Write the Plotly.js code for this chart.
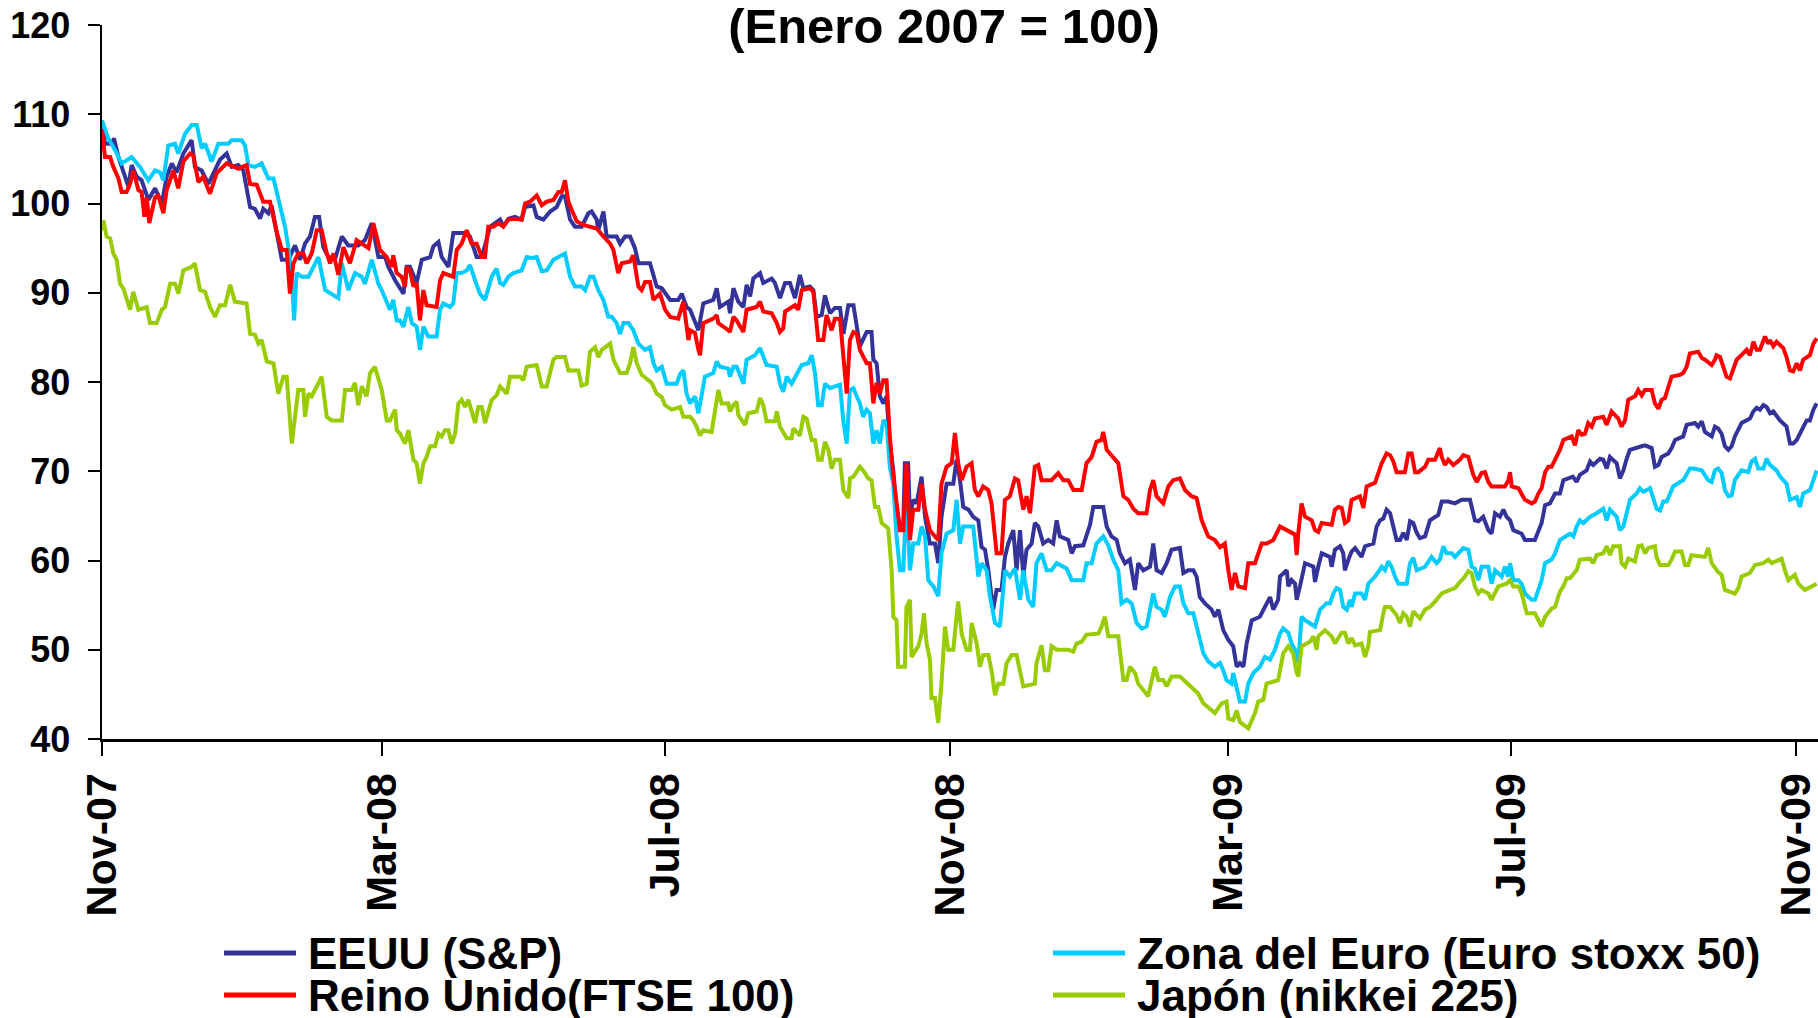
<!DOCTYPE html>
<html>
<head>
<meta charset="utf-8">
<script src="https://cdn.plot.ly/plotly-3.0.1.min.js"></script>
<style>
  html, body { margin: 0; padding: 0; background: #ffffff; }
  #chart { width: 1818px; height: 1018px; }
</style>
</head>
<body>
<div id="chart"></div>
<script>
// Days counted from 1 Nov 2007, index value (Enero 2007 = 100)
const baseDate = '2007-11-01';

const seriesNames = ['EEUU (S&P)', 'Zona del Euro (Euro stoxx 50)', 'Reino Unido(FTSE 100)', 'Japón (nikkei 225)'];
const seriesColors = ['#333399', '#00CCFF', '#FF0000', '#99CC00'];

const tickDates = ['2007-11-01', '2008-03-01', '2008-07-01', '2008-11-01', '2009-03-01', '2009-07-01', '2009-11-01'];
const tickLabels = ['Nov-07', 'Mar-08', 'Jul-08', 'Nov-08', 'Mar-09', 'Jul-09', 'Nov-09'];

const eeuu = [
[0,109.3],[1.3,106.7],[4.2,106.7],[5.2,107.3],[7.1,105.2],[9.9,102.8],[11.4,101.9],[12.8,104.3],[15,103],[17.1,102.6],[20,100.4],[22.9,101.7],[25.8,100],[27.9,103],[30.1,104.5],[32.2,103.5],[35.1,105.6],[38.7,107.1],[40.1,104.1],[43,103.7],[45.9,102.2],[50.9,104.9],[53.8,105.6],[56,104.1],[58.8,104.3],[61,103.7],[63.9,99.6],[66,99.4],[68.2,98.3],[69.6,99.4],[71.8,98.9],[73.2,99.8],[75.4,97],[77.6,93.7],[80.4,93.7],[83.3,95.3],[85.5,93.7],[87.6,95.5],[89.8,96.3],[91.9,98.5],[93.7,98.5],[95.5,95.1],[97.7,94],[100.6,93.8],[103.5,96.3],[106.3,95.3],[110.6,95.3],[113.5,95.9],[116.4,97.8],[119.3,94],[122.2,94],[123.6,92.9],[126.5,91.4],
[130.1,89.9],[131.5,92.9],[132.9,92.9],[135.8,91.1],[138,93.7],[141.6,94.0],[143,95.2],[145.2,95.7],[146.6,94.0],[149.5,92.9],[151.6,96.7],[157.4,96.7],[158.8,96.3],[161.7,94.0],[163.9,94.0],[167.5,97.4],[171.8,98.2],[173.2,97.4],[175.4,98.3],[178.2,98.5],[181.1,98.2],[182.6,99.6],[186.2,99.8],[187.6,98.5],[190.5,98.2],[193.4,99.1],[196.2,99.6],[198.4,100.8],[199.8,100.8],[202,98.2],[204.1,97.4],[207,97.4],[209.9,98.9],[211.3,99.1],[213.5,98.2],[214.2,97.0],[216.4,99.1],[217.8,96.3],[222.1,96.3],[223.6,95.5],[225.7,96.3],[227.9,96.3],[230,95.0],[231.5,93.3],[236.5,93.3],[239.4,90.7],[241.6,90.5],[245.2,89.2],[248.7,89.2],[250.2,89.9],[252.3,88.4],[253.8,88.1],
[255.2,87.3],[257.4,85.8],[259.5,88.8],[263.8,89.2],[265.3,90.5],[266.7,88.4],[270.3,89.0],[271,87.7],[272.5,90.5],[274.6,89.0],[276.8,88.4],[278.2,90.9],[279.7,89.6],[281.1,91.6],[284,92.2],[285.4,91.1],[289,91.6],[290.4,91.1],[292.6,89.4],[294.8,91.1],[296.9,91.1],[299.1,89.4],[301.2,92.0],[302.7,90.5],[305.5,90.7],[307,90.3],[308.4,87.3],[310.6,87.5],[312,89.7],[314.2,87.7],[316.3,88.3],[318.5,88.3],[320,85.4],[322.1,88.6],[324.3,88.6],[326.4,85.1],
[327.1,84.0],[330,85.6],[332.1,85.6],[332.9,82.5],[334.3,82.1],[335.7,78.4],[337.2,77.6],[338.6,78.4],[340,73.1],[341.5,70.1],[342.9,65.7],[344.4,63.8],[345.8,63.8],[346.5,70.9],[347.9,70.9],[348.7,64.9],[350.1,66.8],[351.6,66.4],[353.7,69.4],[355.2,64.9],[357.3,61.9],[359.5,61.9],[360.9,59.7],[362.3,64.9],[364.5,68.6],[367.4,68.6],[368.8,71.3],[370.3,69.0],[371.7,66.0],[373.9,65.7],[376,64.9],[378.2,64.5],[379.6,61.5],[381.1,61.2],[382.5,58.9],[384.6,54.5],[386.1,56.7],[388.2,56.7],[389.7,60.4],[391.1,61.9],[393.3,63.4],[394.7,58.9],[396.2,63.4],[397.6,58.2],[399,61.2],[401.2,61.9],[402.6,64.2],[404.1,63.8],[406.2,61.9],[408.4,62.3],[410.5,61.9],[412,64.5],[413.4,62.7],[417,62.3],[418.5,60.8],[419.9,61.6],[423.5,61.7],[426.4,64.0],[427.8,66.0],[432.1,66.0],[433.6,63.8],[435.7,62.7],[437.9,62.3],[439.3,60.8],[441.5,59.7],[443.6,60.1],[445.8,56.7],[447.2,59.7],[449.4,58.9],[452.3,59.3],[453.7,61.9],[455.1,58.9],[457.3,58.6],[459.5,59.7],[461.6,61.2],[465.2,61.4],[466.7,58.6],[468.8,58.9],[471,58.9],[472.4,58.2],[473.8,55.9],[476,55.2],[478.9,54.5],[480.3,53.7],[481.8,54.5],[483.9,52.2],[486.1,51.1],[488.2,50.4],[489.7,48.1],[491.1,48.5],[492.6,48.1],[494,50.7],[496.2,53.3],[499.7,53.7],[501.9,54.8],[504.1,55.9],[505.5,54.5],[507.6,55.6],
[508.4,58.2],[509.8,58.6],[511.3,58.9],[512,57.1],[513.4,57.8],[514.9,57.4],[515.6,55.6],[517,57.1],[519.2,59.7],[522.8,59.3],[523.5,57.6],[524.9,59.3],[526.4,60.8],[529.9,60.4],[530.7,59.3],[532.1,61.2],[534.3,61.6],[535.7,60.8],[536.4,58.9],[537.9,60.1],[539.3,61.0],[540.8,61.4],[543.6,60.4],[545.1,61.6],[548.7,61.9],[550.1,63.8],[551.6,64.5],[553,64.7],[554.4,65.7],[555.9,65.3],[557.3,63.8],[558.7,62.3],[560.2,62.3],[561.6,63.1],[563.1,62.3],[564.5,64.4],[565.9,64.2],[567.4,63.1],[568.8,62.5],[571,62.7],[573.1,64.5],[576.7,65.1],[578.2,66.6],[581,66.6],[583.9,66.4],[586.8,66.8],[590.4,66.8],[592.5,64.5],[594,64.4],[596.1,64.9],[598.3,63.4],[599.7,63.0],[601.2,65.3],[603.3,64.9],[604.8,65.7],[606.2,64.9],[607.7,64.5],[609.1,63.4],[612.7,63.0],[614.1,62.3],[618.4,62.3],[619.9,63.4],[621.3,64.2],[622.8,66.2],[624.9,66.4],[627.1,67.5],
[629.2,67.5],[630.7,69.0],[634.8,69.4],[636.4,68.8],[637.8,69.6],[640.7,70.1],[642.2,71.1],[643.6,70.7],[646.5,71.4],[647.9,71.3],[649.4,70.3],[650.8,71.6],[653.7,70.9],[655.1,69.2],[656.6,70.1],[658,71.4],[659.4,72.4],[664.5,72.8],[665.9,72.9],[668.8,72.6],[670.2,70.5],[671.7,70.7],[673.1,71.6],[676,72.0],[677.4,72.6],[678.9,73.5],[682.4,73.9],[683.9,75.2],[687.5,75.4],[688.9,75.0],[690.4,75.6],[691.8,74.4],[694.7,73.9],[696.1,75.0],[697.5,74.8],[699,74.2],[700.4,72.8],[701.9,72.4],[703.3,72.8],[704.7,73.9],[706.2,74.8],[707.6,75.4],[711.2,75.9],[712.7,76.7],[714.1,77.1],[715.5,76.9],[717,77.4],[718.4,77.2],[719.9,76.5],[721.3,76.7],[724.2,75.7],[725.6,75.4],[727,75.0],[728.5,73.1],[729.9,73.1],[731.4,73.5],[732.8,74.2],[735.7,75.7],[737.1,75.7],[738.6,76.9],[740,77.6]
];

const reinoUnido = [
[0,108.2],[1.3,105.2],[3.5,105.2],[4.9,104.1],[7.1,102.8],[8.5,101.3],[10.6,101.3],[12.1,102.2],[13.5,103.7],[15.7,101.5],[17.1,101.3],[18.3,98.5],[19.3,100.7],[20.4,97.8],[22.9,100.7],[24.3,100.9],[26.5,98.9],[27.9,101.5],[30.8,103.7],[32.9,101.7],[35.1,104.7],[38,105.6],[39.4,105.4],[41.6,102.4],[43.7,103],[46.6,101.1],[49.5,103.4],[53.8,104.5],[58.8,103.9],[62.4,104.3],[63.9,102.2],[66.8,102.1],[69.6,100.2],[72.5,100.2],[75.4,96.8],[77.6,94.8],[79.7,94.8],[81.1,89.9],[82.6,93.3],[84.7,94.4],[86.9,94.4],[88.3,93.3],[90.5,94.4],[92.7,97],[94.8,97],[97,94.4],[98.4,93.3],[99.9,94.4],[102,92],[104.2,95.1],[107,93.3],[109.9,95.9],[115,95],[117.1,97.8],[120,94.8],[122.9,94],[125,92.9],
[125.7,94.2],[127.2,92.2],[129.3,91.8],[130.8,90.7],[131.5,92.9],[132.9,92.5],[134.4,90.7],[135.8,91.1],[137.2,86.9],[138.7,90.3],[140.1,88.6],[144.4,88.4],[145.9,91.4],[147.3,92.2],[151.6,91.8],[153.1,94.8],[155.2,95.5],[157.4,97.0],[159.5,95.5],[161.7,95.5],[163.9,94.0],[165.3,94.0],[166.7,97.4],[168.9,97.4],[171.1,97.8],[173.2,97.4],[175.4,98.2],[178.2,98.3],[181.1,98.2],[182.6,100.0],[184.7,100.2],[187.6,100.9],[189.8,99.8],[191.9,100.2],[194.8,100.4],[197,101.3],[198.4,101.3],[199.8,102.6],[201.3,100.2],[202.7,99.3],[204.9,98.0],[207.7,97.6],[213.5,97.2],[216.4,96.3],[219.3,95.5],[220.7,94.8],[222.8,92.2],[224.3,93.3],[227.9,93.5],[229.3,94.2],[231.5,90.7],[232.9,90.3],[234.4,91.2],[236.5,91.2],[238,89.2],[240.8,89.9],[243,88.1],[245.2,87.3],[248.7,87.1],[250.9,89.0],[253.1,84.7],[253.8,85.8],
[255.9,85.5],[257.4,83.6],[258.1,83.0],[259.5,86.6],[263.8,87.1],[265.3,87.5],[266,86.6],[270.3,85.8],[271,85.6],[272.5,87.3],[273.9,86.9],[276.8,85.6],[278.2,88.1],[282.5,88.4],[284,89.0],[285.4,87.9],[289,87.7],[291.2,86.6],[292.6,85.6],[294,86.0],[294.8,87.9],[299.1,88.6],[300.5,88.1],[302,90.3],[305.5,90.5],[307,90.1],[309.1,84.7],[311.3,84.7],[312.7,87.5],[314.9,85.8],[316.3,87.1],[318.5,87.1],[319.9,82.5],[321.4,78.7],[322.8,84.7],[324.3,85.6],[325.7,85.4],
[327.1,83.6],[330,82.1],[331.4,82.1],[332.9,77.6],[334.3,79.9],[335.7,78.7],[337.2,80.2],[338.6,80.2],[340,73.9],[341.5,69.4],[342.9,66.8],[344.4,63.4],[345.8,63.4],[347.2,70.9],[348.7,62.3],[350.1,65.7],[352.3,65.7],[353.7,68.6],[355.2,65.7],[357.3,63.4],[359.5,62.7],[360.9,62.3],[362.3,68.6],[364.5,70.5],[366.7,70.9],[368.1,74.3],[369.5,70.9],[371,69.0],[373.1,70.5],[375.3,70.9],[376.7,67.9],[378.2,67.2],[380.3,68.3],[382.5,67.9],[383.9,66.4],[386.1,60.8],[388.2,60.8],[389.7,66.8],[391.8,67.2],[394,69.2],[395.4,69.0],[397.6,65.7],[399,67.2],[400.5,65.3],[402.6,70.5],[404.1,70.7],[405.5,69.0],[409.8,69.0],[412.7,69.8],[414.9,69.0],[417,69.0],[419.2,67.9],[422.8,67.9],[424.9,70.9],[427.1,71.6],[429.2,73.3],[431.4,73.5],[432.1,74.4],[433.6,72.4],[436.4,71.5],[438.6,70.9],[440.8,67.2],[442.9,66.8],[445.1,65.8],[447.2,65.3],[450.8,65.3],[452.3,67.9],[453.7,69.0],[455.1,67.2],[458,66.4],[460.2,68.3],[462.3,69.0],[465.2,69.2],[467.4,67.9],[470.2,67.2],[472.4,67.0],[474.6,64.5],[477.4,62.7],[480.3,62.3],[482.5,61.5],[484.6,61.9],[486.1,58.9],[487.5,56.7],[489,58.6],[490.4,57.1],[493.3,56.9],[494.7,59.7],[497.6,59.7],[500.5,61.9],[502.6,61.9],[505.5,62.3],[508.4,63.8],
[514.9,62.9],[515.6,60.6],[516.3,63.1],[517.7,66.4],[519.2,64.9],[522.1,64.5],[523.5,63.4],[524.9,63.2],[526.4,64.2],[530.7,64.0],[532.1,65.7],[533.6,66.0],[535,65.9],[536.4,64.2],[537.9,64.5],[539.3,66.8],[542.9,67.2],[544.4,65.9],[545.8,68.3],[549.4,68.7],[550.8,69.8],[552.3,70.9],[554.4,72.0],[555.9,71.8],[557.3,71.1],[558.7,69.9],[562.3,69.9],[563.8,72.0],[565.2,72.0],[566.7,69.9],[568.1,69.9],[571,70.5],[572.4,71.3],[575.3,71.3],[577.4,72.6],[578.2,71.6],[579.6,70.7],[581,71.3],[583.2,70.7],[586.1,71.3],[587.5,71.8],[589.7,71.6],[591.8,69.6],[593.3,68.8],[595.4,69.8],[596.9,69.9],[598.3,68.8],[599.7,68.3],[605.5,68.3],[607,69.0],[607.7,69.9],[608.4,68.3],[611.3,68.1],[612.7,67.5],[614.1,66.8],[617,66.4],[618.4,66.6],[619.9,67.5],[621.3,68.1],[622.8,69.9],[624.2,70.5],[625.6,70.5],[627.1,71.3],
[629.2,72.4],[630.7,73.5],[634.3,73.9],[635.7,72.9],[637.1,74.6],[638.6,74.1],[640,74.2],[641.4,75.4],[642.9,75.0],[644.3,75.9],[647.9,76.1],[649.4,75.2],[651.5,76.7],[654.4,75.9],[655.8,75.0],[657.3,75.7],[658.7,78.0],[661.6,78.4],[663,79.1],[664.5,78.5],[665.9,79.1],[668.8,79.1],[670.2,77.6],[671.7,77.0],[673.1,78.0],[674.5,78.2],[676,79.5],[677.4,80.6],[681,80.8],[682.4,81.0],[683.9,81.7],[685.3,83.2],[688.9,83.4],[690.4,82.7],[691.8,82.5],[694.7,81.9],[696.1,82.5],[696.8,83.0],[698.3,82.8],[699.7,81.7],[701.1,80.6],[702.6,80.4],[704,81.3],[705.5,82.5],[708.3,83.2],[709.8,83.6],[711.2,83.0],[712.7,84.5],[714.1,83.6],[715.5,83.6],[717.7,85.1],[719.1,84.3],[719.9,84.7],[721.3,84.0],[722.7,84.5],[725.6,83.8],[727,82.8],[728.5,81.3],[729.9,81.2],[731.4,82.1],[732.8,81.3],[734.2,82.5],[737.1,83.0],[738.6,84.3],[740,84.9]
];

const zonaEuro = [
[0,109.3],[2.7,107.3],[5.6,106],[8.5,104.5],[12.8,105.2],[16.4,104.1],[20,102.6],[22.9,103.7],[25,103.5],[26.5,102.6],[28.6,106.5],[31.5,106.7],[32.9,105.6],[35.8,107.8],[38.7,108.8],[40.9,108.8],[43,106.2],[44.5,106.7],[47.3,104.7],[50.2,106.7],[54.5,106.7],[56,107.1],[60.3,107.1],[61.7,106.5],[63.2,104.3],[66,104.1],[68.9,104.5],[71.8,102.8],[74,102.8],[76.1,100.4],[79,97.4],[80.4,95.1],[81.9,91.8],[82.9,86.9],[84,92.2],[86.2,91.8],[89.1,91.8],[90.5,92.5],[93.4,94],[96.3,90.3],[100.6,89.7],[102,89.4],[103.5,93.3],[106.3,90.3],[109.2,92.2],[112.1,91.8],[113.5,91],[116.4,93.7],[119.3,91],[120.7,90.3],[124.3,88.1],
[125.7,89.2],[127.2,86.9],[128.6,86.9],[130.1,86.2],[132.2,88.4],[133.7,86.6],[135.8,86.2],[137.2,83.6],[138.7,86.2],[140.8,85.1],[144.4,85.1],[145.9,88.1],[147.3,88.8],[150.2,88.4],[151.6,88.8],[153.1,92.2],[155.2,92.2],[157.4,92.5],[158.8,93.1],[161,91.4],[163.1,89.9],[165.3,89.2],[166.7,90.3],[168.2,91.8],[170.3,92.7],[171.8,91.1],[173.2,90.9],[175.4,91.8],[177.5,92.2],[181.1,92.5],[183.3,94.0],[185.4,93.9],[187.6,94.0],[189.8,92.4],[191.9,92.5],[194.8,93.7],[197,94.0],[199.8,94.4],[202,91.8],[204.1,90.7],[207,90.7],[208.5,90.3],[210.6,91.8],[212.1,91.8],[214.2,90.3],[216.4,89.2],[218.5,87.3],[220,87.3],[222.1,86.6],[223.6,85.4],[225,86.6],[227.2,86.6],[229.3,85.8],[231.5,84.3],[234.4,83.6],[236.5,83.9],[238,82.1],[239.4,81.3],[241.6,81.7],[243.7,79.8],[248,79.8],[249.5,80.9],[250.9,81.3],[252.3,78.7],[253.8,77.6],
[255.9,78.4],[257.4,76.5],[258.8,78.4],[260.2,80.6],[263.8,81.0],[265.3,82.3],[266.7,81.7],[270.3,81.5],[271,80.6],[272.5,81.7],[273.9,81.7],[276.8,79.8],[278.2,82.5],[281.8,83.0],[284,83.8],[285.4,82.8],[286.8,81.9],[291.2,81.7],[292.6,79.8],[294,78.9],[295.5,80.6],[297.6,79.8],[300.5,81.3],[302,81.9],[304.8,82.1],[306.3,83.0],[307.7,81.0],[309.1,77.4],[310.6,77.4],[312,79.8],[314.2,79.3],[318.5,79.7],[319.9,75.7],[321.4,73.1],[322.8,79.1],[324.3,79.3],[325.7,78.4],
[327.1,77.6],[328.5,76.1],[330,76.9],[331.4,76.5],[332.9,73.1],[334.3,74.6],[335.7,73.1],[337.2,75.7],[338.6,75.4],[340,70.5],[341.5,68.6],[342.9,62.7],[344.4,58.9],[345.8,58.9],[347.2,67.2],[348.7,58.9],[350.1,61.9],[352.3,61.9],[353.7,63.8],[355.2,62.7],[356.6,57.8],[358.8,57.1],[360.9,56.0],[362.3,60.8],[364.5,63.0],[367.4,63.4],[368.8,66.8],[370.3,61.9],[371.7,63.8],[376,63.8],[378.2,58.2],[379.6,59.7],[381.8,58.9],[383.2,56.0],[385.4,53.0],[387.5,52.6],[389.7,58.9],[391.8,58.2],[394,59.1],[396.2,55.6],[397.6,58.9],[399.8,55.6],[401.9,54.8],[403.3,59.7],[405.5,60.8],[407.7,58.9],[409.8,58.9],[412,59.7],[416.3,59.1],[418.5,57.8],[423.5,57.8],[424.9,59.7],[427.1,59.7],[429.2,61.9],[432.1,62.7],[434.3,61.7],[436.4,60.1],[438.6,58.9],[440,55.2],[442.2,55.6],[444.4,55.2],[446.5,53.0],[448.7,52.4],[450.8,52.6],[452.3,54.5],[453.7,56.3],[455.1,54.8],[457.3,54.5],[458.7,53.7],[460.9,55.9],[463.1,57.1],[465.2,57.1],[466.7,55.2],[468.8,54.1],[471,54.1],[473.1,51.8],[475.3,49.6],[477.4,48.7],[480.3,48.1],[482.5,48.5],[483.9,47.7],[485.3,46.6],[487.5,46.2],[488.2,47.4],[489.7,45.9],[491.1,44.2],[493.3,44.2],[494.7,46.2],[496.9,47.4],[499.7,48.1],[501.9,49.2],[504.1,48.9],[506.2,50.0],[508.4,51.8],
[509.8,52.4],[512,51.9],[513.4,50.7],[514.9,50.0],[516.3,48.5],[517.7,53.7],[519.2,53.3],[523.5,52.6],[525.7,54.5],[528.5,55.2],[530,55.2],[531.4,56.3],[532.8,56.9],[534.3,56.7],[535.7,54.8],[537.2,54.5],[538.6,55.6],[539.3,54.8],[540.8,56.3],[543.6,56.3],[545.1,55.6],[546.5,57.4],[549.4,58.2],[552.3,59.3],[553.7,58.9],[555.1,59.9],[556.6,59.3],[558,58.2],[559.5,57.4],[563.1,57.4],[564.5,59.7],[565.9,60.3],[567.4,58.9],[571,59.3],[573.8,60.4],[576,59.7],[577.4,60.1],[578.9,61.6],[580.3,60.8],[582.5,60.8],[583.9,60.4],[585.4,60.8],[587.5,61.4],[589.7,61.2],[591.1,59.3],[592.5,59.1],[594,57.8],[595.4,59.3],[598.3,59.3],[599.7,57.4],[601.2,58.9],[604.1,58.2],[605.5,59.3],[606.9,58.2],[607.7,59.7],[609.1,57.8],[611.3,57.8],[612.7,57.4],[614.1,56.3],[617,55.6],[618.4,55.6],[619.9,56.7],[621.3,57.8],[622.8,59.7],[625.6,60.1],[627.1,60.8],
[629.2,62.3],[633.5,63.0],[635,62.7],[636.4,63.8],[637.8,64.5],[639.3,64.2],[642.2,64.9],[645,65.3],[647.9,65.8],[649.4,64.5],[650.8,65.7],[653.7,64.9],[655.1,63.4],[656.6,63.8],[658,65.3],[659.4,66.8],[662.3,67.5],[663.7,68.1],[665.2,67.7],[668.1,68.1],[669.5,67.0],[670.9,65.8],[672.4,65.6],[673.8,66.6],[675.3,66.6],[678.1,68.3],[681,68.8],[682.4,69.0],[685.3,70.3],[686.8,70.3],[690.4,70.1],[693.2,69.0],[694.7,68.8],[696.1,70.1],[697.5,70.3],[699,69.8],[700.4,67.9],[701.9,67.2],[703.3,67.3],[704.7,69.0],[707.6,70.1],[710.5,69.9],[711.9,71.1],[713.4,71.4],[714.8,70.3],[717,70.3],[718.4,71.4],[719.9,70.7],[722.7,70.1],[724.2,69.4],[727,68.6],[728.5,66.8],[731.4,67.1],[732.8,66.0],[734.2,67.5],[737.1,67.9],[738.6,69.0],[740,70.1]
];

const japon = [
[0,97],[0.6,98.1],[2,96.3],[3.5,96.1],[4.9,94.4],[6.3,93.7],[7.8,91],[9.2,90.5],[12.1,88.1],[13.5,90.1],[15.7,88.1],[19.3,88.4],[20.7,86.6],[23.6,86.6],[25.8,88.1],[27.2,88.4],[29.4,91],[31.5,91],[33,89.9],[35.1,92.5],[38.7,92.9],[40.1,93.3],[42.3,90.3],[44.5,90.1],[46.6,88.4],[48.8,87.3],[50.9,88.6],[53.1,88.6],[55.3,90.9],[57.4,89],[62.4,88.8],[63.9,85.4],[66,85.3],[67.5,84.3],[68.9,84.7],[71.1,82.3],[74,82.1],[76.1,78.7],[78.3,80.6],[79.7,80.6],[81.9,73.1],[84.7,79.1],[86.9,79.1],[87.6,76.1],[89.1,78.7],[90.5,78.4],[91.9,79.1],[94.8,80.6],[97,76.1],[99.1,75.7],[103.5,75.7],[104.9,79.1],[107.8,79.1],[109.2,79.9],[110.6,77.4],[112.1,79.5],[114.2,78.4],[115.7,81],[117.8,81.7],[120.7,79.1],[122.9,75.7],
[124.3,75.7],[126.5,76.9],[127.2,74.6],[128.6,74.2],[130.8,73.1],[132.2,74.6],[134.4,71.3],[135.8,70.9],[137.2,68.6],[138.7,70.9],[140.1,71.6],[141.6,72.8],[143.7,72.8],[145.2,74.2],[146.6,73.9],[148,74.6],[149.5,74.6],[150.9,73.1],[152.4,74.2],[153.8,77.6],[155.2,78.0],[156.7,77.2],[158.1,78.0],[161,75.4],[162.4,77.2],[163.9,77.2],[165.3,75.4],[168.2,78.0],[170.3,78.5],[171.8,79.5],[174.7,78.7],[176.1,80.6],[180.4,80.6],[181.8,80.2],[183.3,81.7],[187.6,81.9],[189.8,79.5],[191.9,79.5],[194.8,82.5],[196.2,82.8],[199.8,82.8],[201.3,81.3],[205.6,81.3],[207,79.6],[209.2,79.8],[210.6,83.4],[212.8,83.9],[214.2,82.8],[215.7,83.6],[219.3,84.3],[220.7,82.5],[223.6,81.0],[226.4,81.0],[227.9,82.1],[229.3,83.9],[230.8,82.1],[232.9,80.8],[237.2,79.9],[239.4,78.7],[241.6,78.3],[243,77.4],[245.9,76.9],[249.5,77.2],[250.9,76.1],[253.8,76.1],
[255.2,75.7],[256.6,75.0],[258.1,74.0],[259.5,74.6],[263.1,74.4],[264.5,76.9],[266,79.1],[267.4,77.6],[270.3,77.6],[271,76.7],[272.5,77.4],[273.9,77.8],[274.6,76.3],[277.5,75.2],[278.9,76.5],[282.5,76.7],[284,78.2],[285.4,77.4],[286.8,75.6],[290.4,75.6],[291.2,76.7],[292.6,75.0],[295.5,73.7],[297.6,73.7],[298.4,74.8],[301.2,74.0],[302.7,76.1],[304.1,75.9],[305.5,74.6],[306.3,73.5],[307.7,73.5],[309.1,71.3],[310.6,71.3],[312,73.3],[313.5,72.4],[314.9,70.3],[316.3,71.3],[318.5,71.3],[319.9,67.9],[322.1,67.0],[322.8,69.2],[324.3,69.4],
[327.1,70.5],[328.5,70.1],[330.7,69.2],[332.1,69.0],[333.6,66.0],[335,66.0],[336.5,64.2],[339.3,63.6],[340.8,58.9],[341.5,53.7],[342.9,53.3],[343.6,48.1],[346.5,48.1],[347.2,54.8],[348.7,55.6],[349.4,49.2],[352.3,50.4],[353.7,51.8],[354.7,54.1],[355.9,50.7],[357.3,48.9],[358,44.6],[359.5,44.6],[360.9,41.8],[362.3,46.2],[363.8,52.6],[365.2,50.0],[367.4,50.0],[368.8,53.7],[369.5,55.4],[371,51.8],[373.1,50.0],[374.6,50.0],[375.3,53.0],[377.5,50.7],[378.9,48.1],[380.3,49.4],[382.5,49.4],[383.9,47.7],[385.4,44.9],[386.8,46.2],[389,46.2],[390.4,48.5],[392.6,49.4],[394.7,49.4],[396.2,47.7],[397.6,45.9],[402.6,46.2],[403.3,48.5],[405.5,50.5],[406.9,47.7],[408.4,47.7],[409.8,50.4],[412,50.0],[417,50.0],[419.2,49.8],[420.6,50.7],[422.8,50.9],[424.9,51.7],[430,51.8],[431.4,52.6],[432.8,53.7],[434.3,51.5],[438.6,51.5],[440.8,46.6],[442.2,46.6],[443.6,48.1],[445.8,47.4],[447.2,46.2],[451.5,44.8],[453,46.6],[454.4,48.1],[455.9,46.6],[458,46.6],[459.5,45.9],[461.6,47.0],[465.2,47.0],[468.8,46.2],[473.1,45.1],[475.3,44.0],[480.3,42.9],[483.2,44.0],[485.3,44.2],[486.1,42.3],[488.2,42.1],[489.7,43.2],[491.1,41.9],[494.7,41.2],[496.2,42.1],[497.6,42.9],[499,44.2],[501.2,44.4],[502.6,46.2],[507.6,46.6],[508.4,47.7],
[509.8,49.6],[512,50.4],[514.1,49.6],[515.6,47.4],[516.3,47.0],[517.7,50.4],[521.3,50.9],[522.8,51.5],[524.2,50.0],[524.9,51.5],[527.8,52.2],[530.7,51.5],[532.1,50.7],[535,51.9],[536.4,51.9],[537.9,50.7],[539.3,51.3],[540.8,50.5],[543.6,50.7],[545.1,49.2],[546.5,50.4],[547.2,52.0],[551.6,52.2],[553,54.1],[553.7,54.8],[555.9,54.8],[558.7,53.9],[560.2,53.0],[561.6,54.1],[563.1,53.7],[564.5,52.6],[565.9,54.3],[568.8,53.5],[571,54.5],[573.1,54.8],[575.3,55.4],[578.2,56.3],[581.8,56.7],[583.9,56.9],[585.4,57.4],[588.2,58.2],[589.7,58.8],[591.1,58.6],[592.5,57.1],[594,56.3],[595.4,56.7],[598.3,56.3],[599.7,55.6],[601.2,56.3],[602.6,57.1],[606.2,57.4],[607.7,57.8],[609.1,57.1],[611.3,57.1],[612.7,56.3],[614.9,54.1],[618.4,54.1],[619.9,53.3],[621.3,52.6],[622.8,53.7],[625.6,54.6],[627.1,54.8],
[629.2,56.5],[630.7,57.1],[632.1,58.0],[633.5,58.0],[636.4,58.9],[637.8,60.1],[642.2,60.2],[643.6,59.7],[645,60.6],[647.9,60.8],[649.4,61.6],[650.8,60.6],[652.2,61.6],[655.1,61.6],[655.8,59.7],[657.3,59.3],[658.7,60.2],[661.6,59.9],[663,61.6],[664.5,61.7],[665.9,60.8],[667.3,61.4],[670.2,61.6],[670.9,60.4],[672.4,59.5],[676,59.5],[677.4,60.1],[678.9,61.0],[681.7,61.0],[683.2,59.5],[684.6,59.5],[686,60.6],[691.8,60.4],[693.2,61.4],[694.7,59.7],[697.5,58.7],[699,58.4],[700.4,56.7],[704.7,56.3],[706.2,56.9],[707.6,58.2],[711.2,58.6],[713.4,59.5],[717,59.7],[719.1,60.1],[720.6,59.7],[724.9,60.2],[726.3,58.9],[727.8,57.8],[730.6,58.4],[732.1,57.4],[734.9,56.7],[737.8,57.1],[740,57.4]
];

const seriesData = [eeuu, zonaEuro, reinoUnido, japon];

const baseMs = Date.parse(baseDate + 'T00:00:00Z');
function dayToDate(d) {
  return new Date(baseMs + d * 86400000).toISOString().slice(0, 19).replace('T', ' ');
}

const FONT = 'Arial, "Liberation Sans", sans-serif';

const traces = seriesData.map((s, i) => ({
  type: 'scatter',
  mode: 'lines',
  name: seriesNames[i],
  x: s.map(p => dayToDate(p[0])),
  y: s.map(p => p[1]),
  line: { color: seriesColors[i], width: 4 },
  showlegend: false,
  hoverinfo: 'x+y+name'
}));

// Manual legend (two columns, two rows) laid out like the original
const plotL = 102, plotR = 1818, plotT = 25, plotB = 739;
const pw = plotR - plotL, ph = plotB - plotT;
const px = v => (v - plotL) / pw;
const py = v => (plotB - v) / ph;
const legendPos = [
  { lx0: 224, lx1: 296, tx: 306, y: 953 },   // EEUU
  { lx0: 1053, lx1: 1125, tx: 1135, y: 953 }, // Zona del Euro
  { lx0: 224, lx1: 296, tx: 306, y: 995 },   // Reino Unido
  { lx0: 1053, lx1: 1125, tx: 1135, y: 995 }  // Japón
];
const shapes = legendPos.map((p, i) => ({
  type: 'line', xref: 'paper', yref: 'paper',
  x0: px(p.lx0), x1: px(p.lx1), y0: py(p.y), y1: py(p.y),
  line: { color: seriesColors[i], width: 5 }
}));
const annotations = legendPos.map((p, i) => ({
  xref: 'paper', yref: 'paper', x: px(p.tx), y: py(p.y),
  xanchor: 'left', yanchor: 'middle', showarrow: false,
  text: seriesNames[i],
  font: { family: FONT, size: 44, color: '#000000', weight: 'bold' }
}));

const layout = {
  width: 1818, height: 1018,
  margin: { l: plotL, r: 1818 - plotR, t: plotT, b: 1018 - plotB, pad: 0 },
  paper_bgcolor: '#ffffff', plot_bgcolor: '#ffffff',
  showlegend: false,
  title: {
    text: '(Enero 2007 = 100)',
    font: { family: FONT, size: 49, color: '#000000', weight: 'bold' },
    x: 944 / 1818, xanchor: 'center', xref: 'container',
    y: 1 - 26 / 1018, yanchor: 'middle', yref: 'container'
  },
  xaxis: {
    type: 'date',
    range: ['2007-11-01 00:00', '2009-11-10 14:00'],
    tickmode: 'array', tickvals: tickDates, ticktext: tickLabels,
    tickangle: -90,
    ticks: 'outside', ticklen: 14, tickwidth: 2, tickcolor: '#000000',
    showline: true, linecolor: '#000000', linewidth: 3,
    showgrid: false, zeroline: false,
    ticklabelstandoff: 0,
    ticklabeloverflow: 'allow',
    tickfont: { family: FONT, size: 43, color: '#000000', weight: 'bold' }
  },
  yaxis: {
    range: [40, 120], tick0: 40, dtick: 10,
    ticks: 'outside', ticklen: 12, tickwidth: 2, tickcolor: '#000000',
    showline: true, linecolor: '#000000', linewidth: 2.5,
    showgrid: false, zeroline: false,
    ticklabelstandoff: 10,
    tickfont: { family: FONT, size: 36, color: '#000000', weight: 'bold' }
  },
  shapes: shapes,
  annotations: annotations
};

Plotly.newPlot('chart', traces, layout, { staticPlot: true, displayModeBar: false });
</script>
</body>
</html>
